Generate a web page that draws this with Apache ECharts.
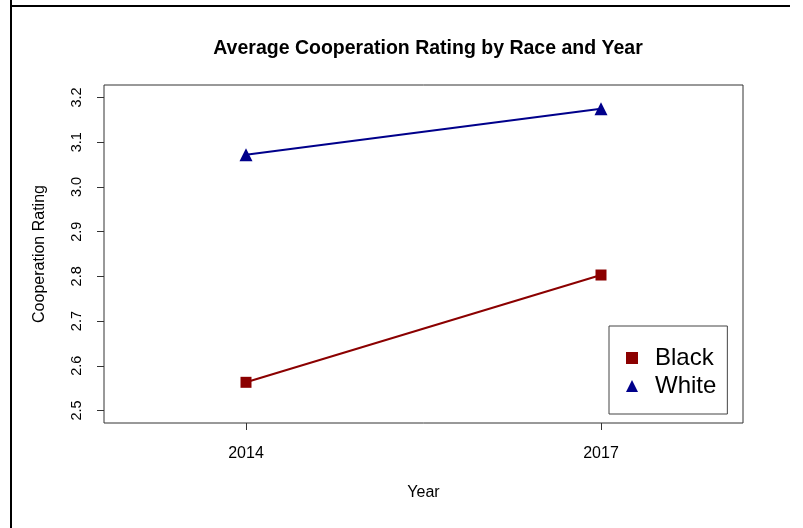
<!DOCTYPE html>
<html>
<head>
<meta charset="utf-8">
<script src="https://cdn.jsdelivr.net/npm/echarts@6/dist/echarts.min.js"></script>
<style>
html,body{margin:0;padding:0;background:#fff;}
#c{width:803px;height:528px;}
</style>
</head>
<body>
<div id="c"></div>
<script>
const years = [2014, 2017];
const blackValues = [2.563, 2.803];
const whiteValues = [3.072, 3.175];
const yTicks = [2.5, 2.6, 2.7, 2.8, 2.9, 3.0, 3.1, 3.2];
const xTicks = [2014, 2017];
const seriesNames = ['Black', 'White'];

const FONT = '"Liberation Sans", Arial, sans-serif';
const chart = echarts.init(document.getElementById('c'));
chart.setOption({
  animation: false,
  backgroundColor: '#fff',
  title: {
    text: 'Average Cooperation Rating by Race and Year',
    left: 423, top: 34, textAlign: 'center',
    textStyle: {fontFamily: FONT, fontSize: 19.5, fontWeight: 'bold', color: '#000'}
  },
  grid: {left: 104, right: 60, top: 85, bottom: 105, show: true, borderColor: '#333', borderWidth: 1, backgroundColor: 'transparent'},
  xAxis: {
    type: 'value', min: 2012.8, max: 2018.2,
    name: 'Year', nameLocation: 'middle', nameGap: 62,
    nameTextStyle: {fontFamily: FONT, fontSize: 16, color: '#000'},
    axisLine: {show: false},
    splitLine: {show: false},
    axisTick: {show: true, length: 7, customValues: xTicks, lineStyle: {color: '#333'}},
    axisLabel: {customValues: xTicks, margin: 23, fontFamily: FONT, fontSize: 16, color: '#000',
      formatter: v => String(v)}
  },
  yAxis: {
    type: 'value', min: 2.472, max: 3.228,
    name: 'Cooperation Rating', nameLocation: 'middle', nameGap: 56, nameRotate: 90,
    nameTextStyle: {fontFamily: FONT, fontSize: 16, color: '#000'},
    axisLine: {show: false},
    splitLine: {show: false},
    axisTick: {show: true, length: 7, customValues: yTicks, lineStyle: {color: '#333'}},
    axisLabel: {customValues: yTicks, rotate: 90, margin: 20, fontFamily: FONT, fontSize: 14.5, color: '#000',
      formatter: v => v.toFixed(1)}
  },
  legend: {
    left: 609, top: 326, orient: 'vertical',
    padding: [18, 11, 14, 17], itemGap: 0,
    borderColor: '#444', borderWidth: 1, backgroundColor: '#fff',
    itemWidth: 12, itemHeight: 12,
    textStyle: {fontFamily: FONT, fontSize: 24, lineHeight: 28, color: '#000', padding: [0, 0, 0, 12]},
    data: [
      {name: seriesNames[0], icon: 'rect', itemStyle: {color: '#8B0000'}},
      {name: seriesNames[1], icon: 'triangle', itemStyle: {color: '#00008B'}}
    ]
  },
  graphic: [
    {type: 'line', shape: {x1: 11, y1: 0, x2: 11, y2: 528}, style: {stroke: '#000', lineWidth: 2}},
    {type: 'line', shape: {x1: 10, y1: 6, x2: 790, y2: 6}, style: {stroke: '#000', lineWidth: 2}}
  ],
  series: [
    {name: seriesNames[0], type: 'line', data: years.map((y, i) => [y, blackValues[i]]),
     symbol: 'rect', symbolSize: 11, lineStyle: {color: '#8B0000', width: 2},
     itemStyle: {color: '#8B0000'}},
    {name: seriesNames[1], type: 'line', data: years.map((y, i) => [y, whiteValues[i]]),
     symbol: 'triangle', symbolSize: 13, lineStyle: {color: '#00008B', width: 2},
     itemStyle: {color: '#00008B'}}
  ]
});
</script>
</body>
</html>
